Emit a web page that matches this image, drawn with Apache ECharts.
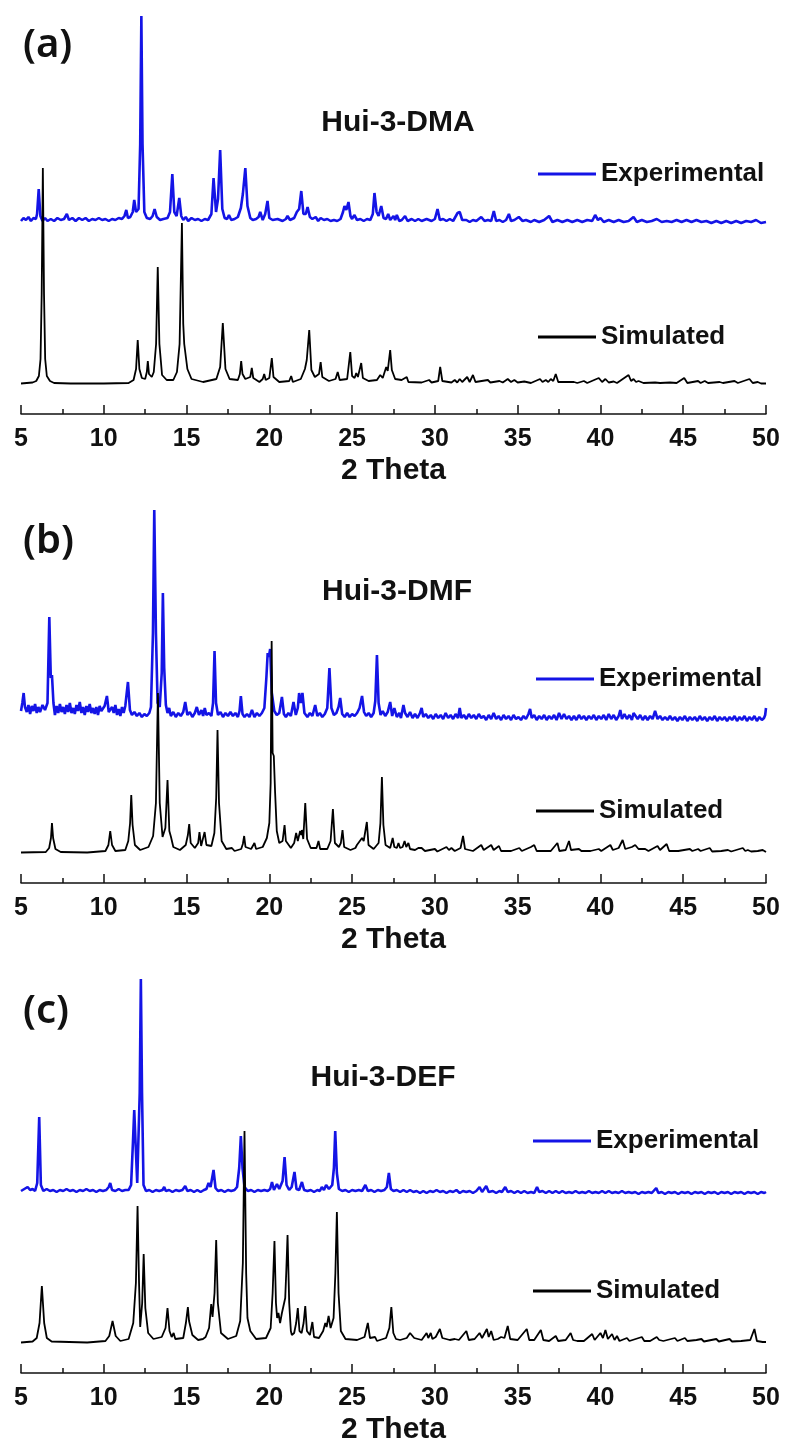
<!DOCTYPE html>
<html>
<head>
<meta charset="utf-8">
<script src="https://cdn.jsdelivr.net/npm/echarts@6/dist/echarts.min.js"></script>
<style>
html,body{margin:0;padding:0;background:#fff;}
#chart{width:785px;height:1448px;}
</style>
</head>
<body>
<div id="chart"></div>
<script>
// ---------- texts ----------
const panelLabels = ['(a)', '(b)', '(c)'];
const sampleNames = ['Hui-3-DMA', 'Hui-3-DMF', 'Hui-3-DEF'];
const seriesNames = ['Experimental', 'Simulated'];
const axisTitle = '2 Theta';
const xTicks = [5, 10, 15, 20, 25, 30, 35, 40, 45, 50];

// ---------- data: [2theta, intensity (a.u., experimental offset upward)] ----------
const simA = [[5,0.5],[5.7,1.5],[5.92,3],[6.08,8],[6.18,25],[6.25,90],[6.32,216],[6.39,90],[6.46,25],[6.56,8],[6.75,3],[7.0,1],[8,0.5],[10,0.5],[11.5,1],
[11.8,4],[11.95,15],[12.05,44],[12.15,15],[12.3,6],[12.5,5],[12.6,12],[12.66,23],[12.73,10],[12.9,7],[13.02,12],[13.16,40],[13.26,117],[13.36,40],[13.52,9],[13.8,4],[14.2,4],[14.42,12],
[14.58,40],[14.72,161],[14.8,60],[14.86,40],[14.95,39],[15.05,15],[15.3,5],[16,2],[16.8,5],[17.03,17],[17.19,61],[17.35,15],[17.6,5],
[18.1,4],[18.22,10],[18.3,23],[18.38,10],[18.55,5],[18.85,7],[18.94,16],[19.03,6],[19.4,2],[19.6,5],[19.69,10],[19.78,4],[20.0,6],[20.15,26],[20.25,7],[20.6,2],[21.2,3],[21.32,8],[21.42,2],
[21.9,5],[22.15,15],[22.26,24],[22.41,54],[22.54,14],[22.75,7],[23.0,10],[23.1,22],[23.2,7],[23.6,3],[24.0,5],[24.13,12],[24.25,4],[24.7,5],[24.89,32],[25.0,8],[25.15,6],[25.25,11],[25.35,7],[25.55,21],[25.65,6],
[26.0,3],[26.5,4],[26.7,9],[26.85,6],[27.06,17],[27.15,13],[27.3,34],[27.4,14],[27.48,13],[27.6,5],[27.99,4],[28.1,2],[28.3,7],[28.4,2],[29.2,1.5],[29.65,4],[29.8,1.5],[30.2,3],[30.32,17],[30.45,3],
[31.0,1.5],[31.2,4],[31.35,1.5],[31.5,5],[31.65,2],[31.95,7],[32.1,2],[32.3,9],[32.45,2],[33.2,4],[33.35,1.5],[33.9,3],[34.1,1.5],[34.4,5],[34.6,2],[34.8,4],[35.0,1.5],[35.4,2.5],[35.8,1],
[36.35,5],[36.5,2],[36.7,4],[36.85,2],[37.0,5],[37.15,3],[37.3,10],[37.45,2],[38.4,2],[38.6,1],[39.0,3],[39.2,1],[39.9,6],[40.1,2],[40.3,5],[40.5,1.5],[40.8,2.5],[41.0,1],
[41.7,9],[41.85,3],[42.0,5],[42.15,2],[42.3,3],[42.6,1],[43.3,1.5],[43.6,1],[44.2,1.5],[44.6,1],[45.06,6],[45.25,1],[45.9,3],[46.05,1],[46.3,3],[46.5,1],[47.2,2],[47.4,1],[48.1,3],[48.3,1],[49.0,5],[49.2,1],[49.5,2],[49.7,0.5],[50,0.5]];

const expA = [[5,163],[5.15,166],[5.3,164],[5.45,167],[5.6,163],[5.75,166],[5.9,165],[5.97,170],[6.07,195],[6.17,168],[6.3,163],[6.45,166],[6.6,163],[6.8,165],[7.0,163],[7.2,166],[7.4,164],[7.6,165],[7.77,170],[7.9,164],
[8.1,166],[8.3,163],[8.5,166],[8.7,164],[8.9,166],[9.1,163],[9.3,165],[9.5,164],[9.7,166],[9.9,164],[10.1,165],[10.3,163],[10.5,165],[10.7,164],[10.9,166],[11.1,165],[11.25,168],[11.36,174],[11.46,166],[11.6,167],
[11.75,172],[11.84,184],[11.95,172],[12.1,175],[12.2,240],[12.27,368],[12.34,240],[12.45,172],[12.6,166],[12.8,165],[12.95,168],[13.07,175],[13.2,167],[13.4,164],[13.6,165],[13.85,166],[14.0,172],[14.14,210],[14.26,172],
[14.4,168],[14.56,186],[14.68,168],[14.8,164],[14.95,167],[15.1,163],[15.3,166],[15.5,164],[15.7,165],[15.9,163],[16.1,165],[16.3,164],[16.5,170],[16.63,206],[16.78,172],[16.9,185],[17.03,234],[17.16,175],[17.3,166],
[17.45,165],[17.56,169],[17.7,164],[17.9,165],[18.1,167],[18.28,176],[18.4,190],[18.55,216],[18.68,178],[18.85,166],[19.0,164],[19.2,165],[19.35,167],[19.45,172],[19.6,164],[19.75,170],[19.89,183],[20.0,166],
[20.2,164],[20.5,165],[20.8,163],[21.0,165],[21.1,168],[21.25,164],[21.5,166],[21.66,172],[21.8,175],[21.93,193],[22.06,170],[22.2,170],[22.31,177],[22.45,167],[22.6,165],[22.8,167],[22.95,163],[23.1,166],
[23.3,164],[23.5,165],[23.7,163],[23.9,164],[24.1,163],[24.3,165],[24.45,172],[24.54,178],[24.65,174],[24.78,182],[24.9,168],[25.0,165],[25.13,169],[25.3,164],[25.5,165],[25.7,163],[25.9,165],[26.1,164],
[26.25,170],[26.35,191],[26.48,172],[26.6,168],[26.76,178],[26.9,166],[27.05,165],[27.18,170],[27.3,164],[27.5,168],[27.6,164],[27.7,169],[27.85,163],[28.0,164],[28.2,168],[28.35,163],[28.6,165],[28.8,163],
[29.0,165],[29.2,163],[29.5,165],[29.8,163],[30.0,165],[30.16,175],[30.3,164],[30.5,165],[30.7,163],[30.9,165],[31.1,163],[31.37,171],[31.5,172],[31.65,164],[31.9,164],[32.1,162],[32.3,164],[32.5,163],
[32.8,167],[33.0,163],[33.2,164],[33.4,163],[33.56,173],[33.7,163],[33.9,164],[34.1,162],[34.3,164],[34.47,170],[34.6,163],[34.8,164],[35.07,167],[35.3,163],[35.5,164],[35.8,162],[36.0,164],[36.3,162],
[36.6,164],[36.9,168],[37.1,162],[37.4,164],[37.7,162],[38.0,164],[38.3,162],[38.6,164],[38.9,162],[39.2,164],[39.5,163],[39.68,169],[39.85,164],[40.0,166],[40.2,162],[40.5,164],[40.8,162],[41.1,164],
[41.4,162],[41.7,163],[42.0,167],[42.2,162],[42.5,164],[42.8,162],[43.1,163],[43.4,165],[43.7,162],[44.0,163],[44.3,162],[44.6,164],[44.9,162],[45.2,164],[45.5,162],[45.8,164],[46.1,162],[46.4,163],
[46.7,161],[47.0,163],[47.3,161],[47.6,163],[47.9,161],[48.2,163],[48.5,161],[48.8,163],[49.1,162],[49.4,164],[49.7,161],[50,162]];

const simB = [[5,0.5],[6.5,1],[6.7,5],[6.81,15],[6.87,30],[6.94,15],[7.08,4],[7.4,1],[9,0.5],[10.1,2],[10.28,8],[10.39,22],[10.5,8],[10.7,2],[11.3,3],[11.48,12],[11.59,30],[11.66,58],[11.74,28],[11.88,8],
[12.2,3],[12.7,6],[12.98,17],[13.15,50],[13.27,160],[13.38,50],[13.55,16],[13.72,25],[13.85,73],[13.96,22],[14.06,16],[14.2,6],[14.6,3],[14.95,8],[15.08,18],[15.16,29],[15.25,10],[15.5,5],[15.7,10],[15.78,21],
[15.88,7],[16.0,9],[16.09,21],[16.2,8],[16.5,7],[16.68,20],[16.79,55],[16.87,123],[16.96,50],[17.12,12],[17.4,4],[17.74,5],[17.9,2],[18.3,4],[18.4,9],[18.48,17],[18.56,6],[18.9,4],[19.1,10],[19.2,4],[19.6,6],
[19.85,15],[20.0,30],[20.08,70],[20.14,212],[20.2,100],[20.27,97],[20.35,60],[20.45,22],[20.6,10],[20.8,12],[20.92,28],[21.0,12],[21.1,10],[21.3,5],[21.5,10],[21.62,20],[21.72,12],[21.86,22],[21.93,18],
[21.97,23],[22.05,14],[22.17,50],[22.28,14],[22.5,5],[22.85,5],[22.97,12],[23.07,4],[23.5,4],[23.7,12],[23.84,44],[23.96,10],[24.2,6],[24.32,10],[24.42,23],[24.52,6],[24.9,3],[25.2,5],[25.29,8],[25.4,6],
[25.6,15],[25.7,12],[25.89,31],[25.99,8],[26.3,4],[26.6,10],[26.71,30],[26.8,76],[26.89,28],[27.02,8],[27.3,5],[27.45,15],[27.55,6],[27.7,5],[27.8,10],[27.9,5],[28.05,6],[28.17,12],[28.27,6],[28.4,10],
[28.5,4],[28.8,3],[29.0,5],[29.1,3],[29.2,5],[29.4,2],[30.0,4],[30.15,1.5],[30.7,6],[30.85,3],[31.0,5],[31.2,2],[31.55,5],[31.7,17],[31.82,4],[32.3,2],[32.8,8],[32.95,3],[33.4,8],[33.55,3],[33.87,7],
[34.0,2],[34.6,2],[35.1,5],[35.25,2],[35.8,6],[35.9,5],[36.0,8],[36.15,2],[37.0,2],[37.4,10],[37.52,2],[37.9,3],[38.1,12],[38.22,3],[38.7,4],[38.85,2],[39.4,2],[39.9,4],[40.05,2],[40.6,8],[40.75,3],
[41.1,5],[41.34,13],[41.5,4],[41.9,6],[42.1,8],[42.3,4],[42.7,4],[42.9,2],[43.45,7],[43.6,3],[44.0,9],[44.15,2],[44.7,2],[45.4,4],[45.55,2],[45.9,4],[46.05,2],[46.6,5],[46.75,1.5],[47.3,2],[47.7,3],
[47.9,1.5],[48.6,5],[48.75,2],[48.9,3],[49.1,1.5],[49.5,2],[49.8,3],[50,1]];

const expB = [[5.0,142],[5.08,150],[5.16,160],[5.24,146],[5.35,141],[5.45,148],[5.55,139],[5.65,147],[5.75,142],[5.85,149],[5.95,140],[6.05,146],[6.15,141],[6.3,148],[6.45,143],[6.6,150],[6.71,236],[6.8,175],
[6.87,178],[6.96,150],[7.05,138],[7.15,147],[7.25,140],[7.35,149],[7.45,141],[7.55,146],[7.65,139],[7.75,148],[7.85,141],[7.95,150],[8.05,140],[8.15,145],[8.25,139],[8.35,148],[8.45,142],[8.55,151],[8.65,140],
[8.75,146],[8.85,138],[8.95,147],[9.05,141],[9.15,149],[9.25,140],[9.35,145],[9.45,139],[9.55,146],[9.65,138],[9.75,147],[9.85,142],[9.95,140],[10.05,147],[10.19,157],[10.3,141],[10.4,139],[10.5,146],[10.6,140],
[10.7,148],[10.8,138],[10.9,144],[11.0,137],[11.1,146],[11.2,140],[11.3,147],[11.46,171],[11.58,143],[11.7,138],[11.85,141],[12.0,137],[12.15,140],[12.3,136],[12.45,139],[12.6,137],[12.75,140],[12.85,146],
[12.97,220],[13.05,343],[13.15,220],[13.25,150],[13.38,146],[13.5,180],[13.57,260],[13.65,185],[13.75,148],[13.85,140],[13.95,145],[14.05,137],[14.2,141],[14.35,136],[14.5,140],[14.65,137],[14.8,141],[14.92,151],
[15.05,138],[15.2,141],[15.35,136],[15.5,140],[15.62,146],[15.75,138],[15.9,143],[16.0,137],[16.1,145],[16.2,138],[16.35,140],[16.5,137],[16.6,150],[16.69,202],[16.78,150],[16.9,138],[17.05,141],[17.2,136],
[17.35,140],[17.5,137],[17.65,141],[17.8,137],[17.95,140],[18.1,136],[18.2,142],[18.28,157],[18.38,139],[18.5,136],[18.65,139],[18.8,136],[18.95,143],[19.1,136],[19.25,140],[19.4,137],[19.55,140],[19.7,145],
[19.82,175],[19.9,200],[19.97,196],[20.05,204],[20.15,160],[20.3,142],[20.45,138],[20.6,140],[20.76,156],[20.88,139],[21.0,136],[21.15,140],[21.3,137],[21.46,151],[21.6,138],[21.72,145],[21.8,160],[21.9,150],
[22.0,160],[22.12,140],[22.3,136],[22.45,140],[22.6,137],[22.77,148],[22.9,137],[23.05,140],[23.2,136],[23.35,139],[23.5,145],[23.63,185],[23.75,145],[23.9,138],[24.05,140],[24.18,146],[24.28,155],[24.4,139],
[24.55,136],[24.7,140],[24.85,136],[25.0,139],[25.15,137],[25.3,140],[25.45,145],[25.6,157],[25.72,141],[25.85,137],[26.0,140],[26.15,136],[26.3,140],[26.4,152],[26.5,198],[26.6,150],[26.72,138],[26.85,142],
[27.0,137],[27.15,141],[27.3,151],[27.42,137],[27.55,145],[27.7,136],[27.85,140],[27.95,135],[28.1,148],[28.2,140],[28.35,136],[28.5,141],[28.65,135],[28.8,139],[28.95,135],[29.1,140],[29.2,145],[29.3,136],
[29.45,139],[29.6,135],[29.75,138],[29.9,134],[30.05,139],[30.2,135],[30.35,138],[30.5,134],[30.65,140],[30.8,135],[30.95,138],[31.1,134],[31.25,139],[31.4,135],[31.5,145],[31.6,135],[31.75,138],[31.9,134],
[32.05,139],[32.2,135],[32.35,138],[32.5,134],[32.65,139],[32.8,135],[32.95,137],[33.1,133],[33.25,138],[33.4,134],[33.55,140],[33.7,134],[33.85,137],[34.0,133],[34.15,138],[34.3,134],[34.45,137],[34.6,133],
[34.75,138],[34.9,134],[35.05,136],[35.2,133],[35.35,137],[35.5,134],[35.65,139],[35.75,144],[35.85,135],[36.0,138],[36.15,133],[36.3,137],[36.45,134],[36.6,138],[36.75,133],[36.9,137],[37.05,134],[37.2,138],
[37.35,133],[37.5,140],[37.65,134],[37.8,139],[37.95,134],[38.1,137],[38.25,133],[38.4,137],[38.55,133],[38.7,138],[38.85,134],[39.0,137],[39.15,133],[39.3,137],[39.45,134],[39.6,138],[39.75,133],[39.9,137],
[40.05,134],[40.2,138],[40.35,133],[40.5,139],[40.65,134],[40.8,138],[40.95,133],[41.1,137],[41.2,143],[41.3,134],[41.45,139],[41.6,134],[41.75,138],[41.9,133],[42.0,140],[42.1,141],[42.25,134],[42.4,138],
[42.55,133],[42.7,137],[42.85,133],[43.0,137],[43.15,134],[43.3,142],[43.45,134],[43.6,137],[43.75,133],[43.9,136],[44.05,133],[44.2,137],[44.35,133],[44.5,136],[44.65,132],[44.8,136],[44.95,133],[45.1,137],
[45.25,132],[45.4,136],[45.55,133],[45.7,136],[45.85,132],[46.0,137],[46.15,133],[46.3,136],[46.45,132],[46.6,136],[46.75,133],[46.9,137],[47.05,132],[47.2,136],[47.35,133],[47.5,136],[47.65,132],[47.8,136],
[47.95,133],[48.1,137],[48.25,132],[48.4,136],[48.55,133],[48.7,137],[48.85,132],[49.0,136],[49.15,133],[49.3,137],[49.45,132],[49.6,136],[49.75,133],[49.88,135],[49.95,138],[50,145]];

const simC = [[5,0.5],[5.7,1.5],[5.95,5],[6.12,20],[6.26,57],[6.4,20],[6.56,5],[6.85,1.5],[9,0.5],[10.1,2],[10.33,7],[10.53,22],[10.72,7],[11.0,2],[11.5,4],[11.78,20],[11.94,60],[12.04,137],[12.13,60],[12.2,16],
[12.25,15],[12.32,40],[12.41,89],[12.51,35],[12.68,10],[13.0,4],[13.5,6],[13.73,15],[13.85,35],[13.97,12],[14.1,6],[14.22,10],[14.32,4],[14.8,5],[14.96,20],[15.08,36],[15.15,22],[15.22,20],[15.35,8],[15.7,3],
[15.99,4],[16.15,6],[16.36,15],[16.49,39],[16.57,26],[16.63,25],[16.69,50],[16.79,103],[16.89,40],[17.08,10],[17.5,4],[18.0,7],[18.24,22],[18.4,80],[18.5,212],[18.6,70],[18.68,25],[18.85,12],[19.2,4],[19.8,5],
[20.08,15],[20.2,50],[20.31,102],[20.4,40],[20.47,25],[20.55,30],[20.65,20],[20.76,30],[20.86,30],[20.96,45],[21.02,70],[21.1,108],[21.2,40],[21.3,12],[21.36,8],[21.5,10],[21.62,20],[21.72,35],[21.82,12],
[21.95,10],[22.07,20],[22.17,37],[22.27,12],[22.45,8],[22.6,21],[22.7,6],[23.0,5],[23.25,12],[23.38,20],[23.46,16],[23.58,27],[23.7,15],[23.88,25],[23.99,70],[24.08,131],[24.18,50],[24.32,12],[24.6,4],[25.3,3],
[25.75,6],[25.95,20],[26.08,5],[26.39,6],[26.5,2],[27.05,5],[27.25,15],[27.37,36],[27.49,10],[27.65,4],[27.75,6],[27.9,3],[28.3,5],[28.5,10],[28.6,12],[28.75,5],[29.2,3],[29.5,10],[29.6,5],[29.75,10],[29.85,4],
[30.05,6],[30.3,14],[30.45,5],[30.9,3],[31.2,4],[31.45,3],[31.9,12],[32.05,3],[32.4,4],[32.7,10],[32.85,5],[33.14,14],[33.25,6],[33.4,12],[33.55,3],[33.8,4],[34.0,6],[34.2,5],[34.4,17],[34.55,4],[35.0,3],
[35.55,14],[35.7,3],[36.0,3],[36.4,13],[36.55,3],[36.9,2],[37.3,7],[37.45,2],[37.9,3],[38.2,10],[38.35,3],[38.6,2],[39.0,2],[39.5,9],[39.65,3],[40.0,10],[40.15,5],[40.3,13],[40.45,4],[40.7,9],[40.85,3],
[41.0,7],[41.15,2],[41.6,5],[41.75,2],[42.5,6],[42.65,2],[43.0,2],[43.4,6],[43.55,3],[43.8,2],[44.5,5],[44.65,2],[45.1,5],[45.25,2],[45.8,3],[46.1,4],[46.25,1.5],[47.0,4],[47.15,1.5],[47.8,4],[47.95,1.5],
[48.5,2],[49.05,3],[49.3,14],[49.45,2],[49.8,1],[50,1]];

const expC = [[5.0,152],[5.2,154],[5.4,156],[5.55,153],[5.7,154],[5.85,152],[5.98,160],[6.1,226],[6.2,158],[6.35,152],[6.55,154],[6.75,152],[6.95,153],[7.15,151],[7.35,153],[7.55,152],[7.75,154],[7.95,152],
[8.15,153],[8.35,151],[8.55,153],[8.75,152],[8.95,154],[9.15,152],[9.35,153],[9.55,151],[9.75,153],[9.95,152],[10.15,153],[10.3,156],[10.39,160],[10.5,153],[10.7,152],[10.9,154],[11.1,152],[11.3,153],
[11.5,153],[11.65,158],[11.76,200],[11.84,233],[11.92,200],[12.02,160],[12.1,158],[12.17,250],[12.24,364],[12.31,250],[12.4,158],[12.55,152],[12.75,153],[12.95,151],[13.15,153],[13.35,152],[13.55,153],
[13.65,156],[13.75,152],[13.95,153],[14.15,151],[14.35,153],[14.55,152],[14.75,153],[14.92,157],[15.05,152],[15.25,153],[15.45,151],[15.65,153],[15.85,151],[16.05,153],[16.2,154],[16.33,160],[16.45,156],
[16.63,173],[16.75,155],[16.9,152],[17.1,153],[17.3,151],[17.5,153],[17.7,152],[17.9,153],[18.05,156],[18.18,175],[18.28,207],[18.38,175],[18.5,156],[18.7,152],[18.9,153],[19.1,151],[19.3,153],[19.5,152],
[19.7,153],[19.9,152],[20.05,154],[20.16,161],[20.28,153],[20.46,159],[20.6,154],[20.8,162],[20.92,186],[21.04,158],[21.2,153],[21.35,156],[21.52,171],[21.64,154],[21.8,153],[21.97,161],[22.1,153],[22.3,152],
[22.5,153],[22.7,151],[22.9,153],[23.05,152],[23.17,156],[23.3,153],[23.43,158],[23.6,154],[23.8,158],[23.9,175],[23.98,212],[24.08,170],[24.2,154],[24.4,152],[24.6,153],[24.8,151],[25.0,153],[25.2,152],
[25.4,153],[25.6,152],[25.8,158],[25.95,152],[26.15,153],[26.35,151],[26.55,153],[26.75,152],[26.95,153],[27.1,156],[27.22,170],[27.34,154],[27.5,152],[27.7,153],[27.9,151],[28.1,153],[28.3,151],[28.5,153],
[28.7,151],[28.9,152],[29.1,150],[29.3,152],[29.5,150],[29.7,152],[29.9,151],[30.1,153],[30.3,151],[30.5,152],[30.7,150],[30.9,152],[31.1,151],[31.3,153],[31.5,150],[31.7,152],[31.9,151],[32.1,152],[32.3,150],
[32.5,152],[32.7,156],[32.85,151],[33.1,157],[33.25,151],[33.5,152],[33.7,150],[33.9,152],[34.05,151],[34.25,156],[34.4,151],[34.6,152],[34.8,150],[35.0,152],[35.2,150],[35.4,152],[35.6,150],[35.8,151],
[36.0,150],[36.17,156],[36.3,151],[36.5,152],[36.7,150],[36.9,152],[37.1,150],[37.3,152],[37.5,150],[37.7,152],[37.9,150],[38.1,151],[38.3,150],[38.5,152],[38.7,150],[38.9,151],[39.1,150],[39.3,152],
[39.5,150],[39.7,151],[39.9,150],[40.1,152],[40.3,150],[40.5,152],[40.7,150],[40.9,151],[41.1,150],[41.3,152],[41.5,150],[41.7,151],[41.9,150],[42.1,151],[42.3,149],[42.5,151],[42.7,150],[42.9,151],
[43.1,150],[43.37,155],[43.5,150],[43.7,151],[43.9,149],[44.1,151],[44.3,150],[44.5,151],[44.7,149],[44.9,151],[45.1,150],[45.3,151],[45.5,149],[45.7,151],[45.9,150],[46.1,151],[46.3,149],[46.5,151],
[46.7,150],[46.9,151],[47.1,149],[47.3,151],[47.5,150],[47.7,151],[47.9,149],[48.1,151],[48.3,150],[48.5,151],[48.7,149],[48.9,151],[49.1,150],[49.3,151],[49.5,149],[49.7,151],[49.9,150],[50,151]];

// ---------- layout ----------
const BLUE = '#1414e6';
const BLACK = '#000000';
const FONT = '"Liberation Sans", Arial, sans-serif';
const panels = [
  {top: 10,  height: 404, ymin: -30, ymax: 374, exp: expA, sim: simA, label: [23, 46], title: [398, 123], legendTop: 154, legendGap: 133, legendLeft: 533},
  {top: 490, height: 393, ymin: -30, ymax: 363, exp: expB, sim: simB, label: [23, 542], title: [397, 592], legendTop: 659, legendGap: 102, legendLeft: 531},
  {top: 960, height: 413, ymin: -30, ymax: 383, exp: expC, sim: simC, label: [23, 1012], title: [383, 1078], legendTop: 1121, legendGap: 120, legendLeft: 528}
];

const grid = [], xAxis = [], yAxis = [], series = [], legend = [], graphic = [];
panels.forEach((p, i) => {
  grid.push({left: 21, right: 19, top: p.top, height: p.height, containLabel: false});
  xAxis.push({
    type: 'value', gridIndex: i, min: xTicks[0], max: xTicks[xTicks.length - 1], interval: 5,
    name: axisTitle, nameLocation: 'middle', nameGap: 42,
    nameTextStyle: {fontFamily: FONT, fontWeight: 'bold', fontSize: 30, color: '#111'},
    axisLine: {show: true, onZero: false, lineStyle: {color: '#111', width: 1.5}},
    axisTick: {show: true, inside: true, length: 9, lineStyle: {color: '#111', width: 1.5}},
    minorTick: {show: true, splitNumber: 2, length: 5, lineStyle: {color: '#111', width: 1.5}},
    splitLine: {show: false}, minorSplitLine: {show: false},
    axisLabel: {fontFamily: FONT, fontWeight: 'bold', fontSize: 25, color: '#111', margin: 13}
  });
  yAxis.push({type: 'value', gridIndex: i, min: p.ymin, max: p.ymax, show: false, splitLine: {show: false}});
  series.push({
    name: seriesNames[0], type: 'line', xAxisIndex: i, yAxisIndex: i, data: p.exp,
    symbol: 'none', showSymbol: false, clip: false, z: 2,
    lineStyle: {color: BLUE, width: 2.6}, itemStyle: {color: BLUE}
  });
  series.push({
    name: seriesNames[1], type: 'line', xAxisIndex: i, yAxisIndex: i, data: p.sim,
    symbol: 'none', showSymbol: false, clip: false, z: 3,
    lineStyle: {color: BLACK, width: 1.8}, itemStyle: {color: BLACK}
  });
  legend.push({
    data: seriesNames, orient: 'vertical', left: p.legendLeft, top: p.legendTop,
    itemGap: p.legendGap, itemWidth: 58, itemHeight: 3, icon: 'rect', selectedMode: false,
    textStyle: {fontFamily: FONT, fontWeight: 'bold', fontSize: 26, color: '#111', lineHeight: 30}
  });
  graphic.push({
    type: 'text', x: p.label[0], y: p.label[1],
    style: {text: panelLabels[i], font: '600 40px "Noto Sans", sans-serif', fill: '#111', textAlign: 'left', textVerticalAlign: 'middle'}
  });
  graphic.push({
    type: 'text', x: p.title[0], y: p.title[1],
    style: {text: sampleNames[i], font: 'bold 30px ' + FONT, fill: '#111', textAlign: 'center', textVerticalAlign: 'middle'}
  });
});

const chart = echarts.init(document.getElementById('chart'), null, {renderer: 'canvas'});
chart.setOption({
  animation: false,
  backgroundColor: '#ffffff',
  grid, xAxis, yAxis, series, legend, graphic
});
</script>
</body>
</html>
